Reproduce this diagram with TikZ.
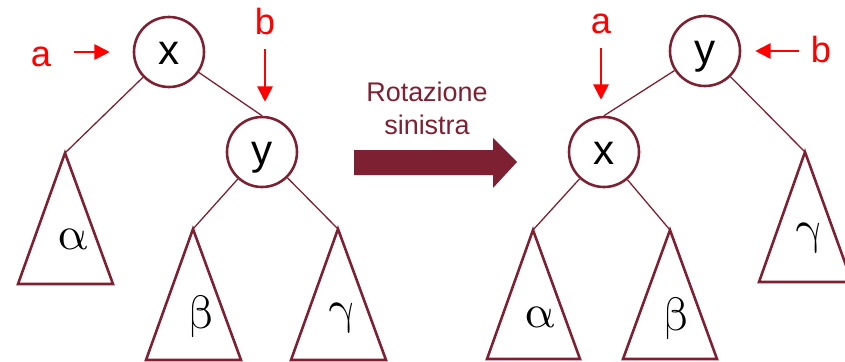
\documentclass[tikz,border=0pt]{standalone}
\usepackage{fontspec}
\usepackage{unicode-math}
\setmainfont{Liberation Sans}
\setmathfont{Latin Modern Math}
\usetikzlibrary{arrows.meta}
\definecolor{figBordo}{RGB}{125,33,50}
\definecolor{figRosso}{RGB}{255,0,0}
\tikzset{
  nodo/.style={
    circle, draw=figBordo, line width=2.2pt, minimum size=2.1cm,
    inner sep=0pt, font=\fontsize{36}{36}\selectfont,
    text height=26pt, text depth=4pt
  },
  sottoalbero/.style={draw=figBordo, line width=2.2pt},
  ramo/.style={draw=figBordo, line width=1.1pt},
  lettera/.style={inner sep=0pt, font=\fontsize{40}{40}\selectfont},
  etichetta/.style={inner sep=0pt, text=figRosso, font=\fontsize{31}{31}\selectfont},
  puntatore/.style={draw=figRosso, line width=1.6pt,
    -{Triangle[length=13pt, width=13pt]}},
  freccione/.style={fill=figBordo}
}
\begin{document}
\begin{tikzpicture}[x=0.03cm, y=-0.03cm]
  \clip (0,0) rectangle (845,361);

  % prima della rotazione
  \node[nodo] (lx) at (169,52) {x};
  \node[nodo] (ly) at (262,152) {y};
  \coordinate (lalfa) at (65,153);
  \coordinate (lbeta) at (193,229);
  \coordinate (lgamma) at (338,229);
  \draw[sottoalbero] (lalfa) -- (113,284) -- (18,284) -- cycle;
  \draw[sottoalbero] (lbeta) -- (241,360) -- (146,360) -- cycle;
  \draw[sottoalbero] (lgamma) -- (386,360) -- (291,360) -- cycle;
  \node[lettera] (lga) at (73,239) {$\upalpha$};
  \node[lettera] (lgb) at (202,316) {$\upbeta$};
  \node[lettera] (lgc) at (342,318) {$\upgamma$};
  \draw[ramo] (lx) -- (lalfa);
  \draw[ramo] (lx) -- (ly.north);
  \draw[ramo] (ly) -- (lbeta);
  \draw[ramo] (ly) -- (lgamma);
  \node[etichetta] (la) at (41,57) {a};
  \node[etichetta] (lb) at (265,22) {b};
  \draw[puntatore, shorten <=0.69cm, shorten >=0.69cm] (lx.west -| la.east) -- (lx.west);
  \draw[puntatore, shorten <=0.39cm, shorten >=0.42cm] (lb.south) -- (lb.south |- ly.north);

  % freccia
  \fill[freccione] (354,150) -- (493,150) -- (493,138) -- (517,162)
    -- (493,188) -- (493,175) -- (354,175) -- cycle;
  \node[text=figBordo, align=center, font=\fontsize{23}{28}\selectfont] (rot) at (427,108) {Rotazione\\sinistra};

  % dopo la rotazione
  \node[nodo] (ry) at (705,51) {y};
  \node[nodo] (rx) at (604,152) {x};
  \coordinate (ralfa) at (533,230);
  \coordinate (rbeta) at (670,230);
  \coordinate (rgamma) at (805,152);
  \draw[sottoalbero] (ralfa) -- (580,359) -- (487,359) -- cycle;
  \draw[sottoalbero] (rbeta) -- (717,359) -- (623,359) -- cycle;
  \draw[sottoalbero] (rgamma) -- (852,282) -- (759,282) -- cycle;
  \node[lettera] (rga) at (540,317) {$\upalpha$};
  \node[lettera] (rgb) at (677,318) {$\upbeta$};
  \node[lettera] (rgc) at (809,238) {$\upgamma$};
  \draw[ramo] (ry) -- (rx.north);
  \draw[ramo] (ry) -- (rgamma);
  \draw[ramo] (rx) -- (ralfa);
  \draw[ramo] (rx) -- (rbeta);
  \node[etichetta] (ra) at (601,24) {a};
  \node[etichetta] (rb) at (821,50) {b};
  \draw[puntatore, shorten <=0.42cm, shorten >=0.48cm] (ra.south) -- (ra.south |- rx.north);
  \draw[puntatore, shorten <=0.36cm, shorten >=0.42cm] (ry.east -| rb.west) -- (ry.east);
\end{tikzpicture}
\end{document}
